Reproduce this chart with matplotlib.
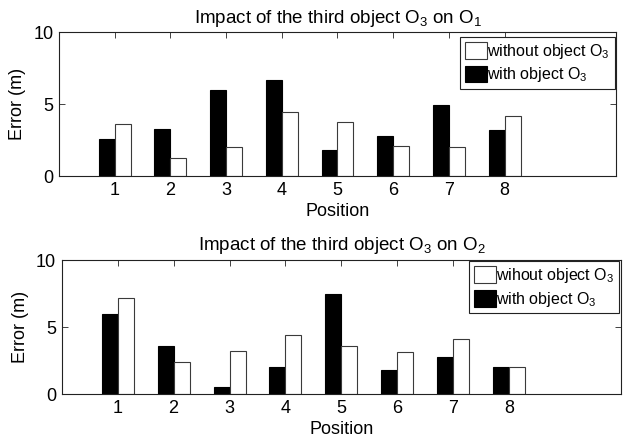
import numpy as np
import matplotlib
matplotlib.use("Agg")
import matplotlib.pyplot as plt

plt.rcParams['font.family'] = ['Liberation Sans', 'DejaVu Sans']
plt.rcParams['mathtext.fontset'] = 'custom'
plt.rcParams['mathtext.rm'] = 'Liberation Sans'
plt.rcParams['mathtext.it'] = 'Liberation Sans:italic'
plt.rcParams['mathtext.bf'] = 'Liberation Sans:bold'

positions = [1, 2, 3, 4, 5, 6, 7, 8]

# Errors for object O1
o1_with = [2.6, 3.25, 6.0, 6.7, 1.78, 2.75, 4.97, 3.22]
o1_without = [3.62, 1.22, 2.0, 4.47, 3.78, 2.12, 2.0, 4.2]

# Errors for object O2
o2_with = [6.0, 3.6, 0.5, 2.0, 7.45, 1.8, 2.75, 2.0]
o2_without = [7.15, 2.42, 3.22, 4.42, 3.6, 3.15, 4.12, 2.0]

titles = ["Impact of the third object O$_3$ on O$_1$",
          "Impact of the third object O$_3$ on O$_2$"]
legend_without = ["without object O$_3$", "wihout object O$_3$"]
legend_with = "with object O$_3$"

fig = plt.figure(figsize=(6.31, 4.44), dpi=100)
axes = [fig.add_axes([0.0935, 0.6036, 0.8827, 0.3236]),
        fig.add_axes([0.0978, 0.1126, 0.8864, 0.3018])]
legend_anchor = [(0.998, 0.969), (0.997, 0.993)]

series = [(o1_with, o1_without), (o2_with, o2_without)]
w = 0.286
x = np.array(positions, dtype=float)

for i, ax in enumerate(axes):
    with_vals, without_vals = series[i]
    b_with = ax.bar(x - w / 2, with_vals, width=w, color='black',
                    edgecolor='black', linewidth=0.8, zorder=2)
    b_without = ax.bar(x + w / 2, without_vals, width=w, color='white',
                       edgecolor='#3a3a3a', linewidth=0.8, zorder=2)
    ax.set_xlim(0, 10)
    ax.set_ylim(0, 10)
    ax.set_xticks(positions)
    ax.set_yticks([0, 5, 10])
    ax.tick_params(direction='in', top=True, right=True, length=4,
                   width=0.6, labelsize=13, colors='#222222',
                   labelcolor='black', pad=4)
    for sp in ax.spines.values():
        sp.set_linewidth(0.8)
        sp.set_color('#222222')
    ax.set_title(titles[i], fontsize=13.5, pad=7)
    ax.set_xlabel("Position", fontsize=13, labelpad=3)
    ax.set_ylabel("Error (m)", fontsize=13, labelpad=5)
    leg = ax.legend([b_without, b_with], [legend_without[i], legend_with],
                    loc='upper right', bbox_to_anchor=legend_anchor[i],
                    fontsize=11.5, fancybox=False,
                    framealpha=1, edgecolor='#222222', handlelength=1.35,
                    handleheight=1.25, handletextpad=0.05, borderpad=0.3,
                    labelspacing=0.3, borderaxespad=0.0)
    leg.get_frame().set_linewidth(0.8)

fig.savefig("out.png", dpi=100)
